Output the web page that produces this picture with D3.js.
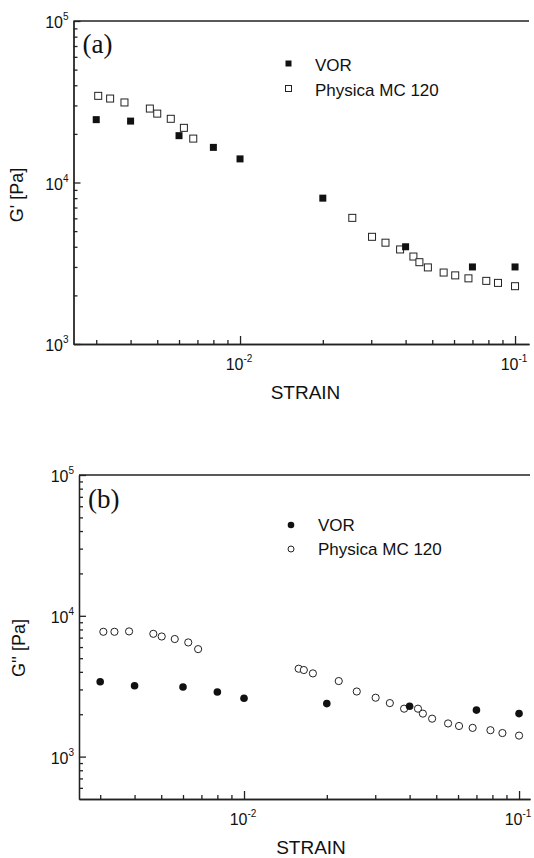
<!DOCTYPE html>
<html>
<head>
<meta charset="utf-8">
<script src="https://cdn.jsdelivr.net/npm/d3@7"></script>
<style>
  html, body { margin: 0; padding: 0; background: #fff; }
  svg text { font-family: "Liberation Sans", Arial, sans-serif; fill: #111; }
</style>
</head>
<body>
<svg id="chart" width="534" height="858"></svg>
<script>
// panel (a) G' , panel (b) G''
const vorStrainA = [0.003, 0.004, 0.006, 0.008, 0.01, 0.02, 0.04, 0.07, 0.1]
const vorGp = [24500, 24000, 19500, 16500, 14000, 8000, 4000, 3000, 3000]

const phyStrainA = [0.00305, 0.00337, 0.0038, 0.0047, 0.005, 0.0056, 0.00625, 0.00676,
  0.0256, 0.0302, 0.0338, 0.0382, 0.0427, 0.0449, 0.0482, 0.055, 0.0606, 0.0677, 0.0786, 0.0867, 0.1]
const phyGp = [34400, 33100, 31300, 28700, 26700, 24800, 21800, 18700,
  6040, 4610, 4240, 3850, 3480, 3210, 2980, 2770, 2660, 2550, 2460, 2390, 2280]

const vorStrainB = [0.003, 0.004, 0.006, 0.008, 0.01, 0.02, 0.04, 0.07, 0.1]
const vorGpp = [3400, 3190, 3120, 2880, 2600, 2380, 2280, 2140, 2020]

const phyStrainB = [0.00308, 0.00338, 0.00382, 0.00468, 0.00502, 0.0056, 0.00627, 0.00681,
  0.0158, 0.0165, 0.0178, 0.0221, 0.0257, 0.0301, 0.0339, 0.0382, 0.0429, 0.0447, 0.0483,
  0.0552, 0.0605, 0.0678, 0.0787, 0.087, 0.1]
const phyGpp = [7700, 7700, 7750, 7450, 7130, 6840, 6470, 5800,
  4210, 4120, 3900, 3440, 2900, 2620, 2400, 2190, 2190, 2020, 1860,
  1720, 1650, 1600, 1540, 1470, 1410]

const legendNames = ['VOR', 'Physica MC 120']
const xTickExps = [-2, -1]

const svg = d3.select('#chart')

function panel(opt) {
  const x = d3.scaleLog().domain(opt.xDomain).range([opt.left, opt.right])
  const y = d3.scaleLog().domain(opt.yDomain).range([opt.bottom, opt.top])
  const g = svg.append('g')

  // minor ticks
  const xMinor = []
  const yMinor = []
  for (let e = -3; e <= -1; e++) for (let k = 2; k <= 9; k++) {
    const v = k * Math.pow(10, e)
    if (v > opt.xDomain[0] && v < opt.xDomain[1]) xMinor.push(v)
  }
  for (let e = 2; e <= 4; e++) for (let k = 2; k <= 9; k++) {
    const v = k * Math.pow(10, e)
    if (v > opt.yDomain[0] && v < opt.yDomain[1]) yMinor.push(v)
  }
  const xMajor = xTickExps.map(e => Math.pow(10, e))
  const yMajor = opt.yExps.map(e => Math.pow(10, e))

  g.append('g').attr('transform', `translate(0,${opt.bottom})`)
    .call(d3.axisBottom(x).tickValues(xMinor).tickSize(-4).tickFormat('').tickSizeOuter(0))
  g.append('g').attr('transform', `translate(0,${opt.bottom})`)
    .call(d3.axisBottom(x).tickValues(xMajor).tickSize(-8).tickFormat('').tickSizeOuter(0))
  g.append('g').attr('transform', `translate(${opt.left},0)`)
    .call(d3.axisLeft(y).tickValues(yMinor).tickSize(-4).tickFormat('').tickSizeOuter(0))
  g.append('g').attr('transform', `translate(${opt.left},0)`)
    .call(d3.axisLeft(y).tickValues(yMajor).tickSize(-7).tickFormat('').tickSizeOuter(0))
  g.selectAll('.domain, .tick line').attr('stroke', '#222').attr('stroke-width', 1.3)

  // top frame line
  g.append('line')
    .attr('x1', opt.left).attr('x2', opt.right)
    .attr('y1', opt.top).attr('y2', opt.top)
    .attr('stroke', '#222').attr('stroke-width', 1.3)

  // tick labels with superscripts
  const xl = g.selectAll('.xl').data(xTickExps).enter().append('text')
    .attr('x', d => x(Math.pow(10, d)) - 1)
    .attr('y', opt.bottom + 26)
    .attr('text-anchor', 'middle')
    .attr('font-size', 16)
  xl.append('tspan').text('10')
  xl.append('tspan').attr('dy', -8).attr('font-size', 10).text(d => d)

  const yl = g.selectAll('.yl').data(opt.yExps).enter().append('text')
    .attr('x', opt.left - 5)
    .attr('y', d => y(Math.pow(10, d)) + 7)
    .attr('text-anchor', 'end')
    .attr('font-size', 16)
  yl.append('tspan').text('10')
  yl.append('tspan').attr('dy', -8).attr('font-size', 10).text(d => d)

  // axis titles
  g.append('text')
    .attr('transform', `translate(${opt.yTitleX},${opt.yTitleY}) rotate(-90)`)
    .attr('text-anchor', 'middle')
    .attr('font-size', 18)
    .text(opt.yTitle)
  g.append('text')
    .attr('x', opt.left + 232).attr('y', opt.bottom + 55)
    .attr('text-anchor', 'middle')
    .attr('font-size', 19)
    .text('STRAIN')

  // panel letter
  g.append('text')
    .attr('x', opt.left + 9).attr('y', opt.top + opt.letterDy)
    .style('font-family', '"Liberation Serif", "Times New Roman", serif')
    .attr('font-size', 27)
    .text(opt.letter)

  return { g, x, y }
}

// ---------- panel (a)
const pa = panel({
  left: 73.5, right: 529, top: 21, bottom: 344,
  xDomain: [0.00248, 0.1124], yDomain: [1e3, 1e5], yExps: [3, 4, 5],
  yTitle: "G' [Pa]", yTitleX: 23, yTitleY: 195, letter: '(a)', letterDy: 32
})
const sq = 7
pa.g.selectAll('.pA').data(phyStrainA).enter().append('rect')
  .attr('x', (d) => pa.x(d) - sq / 2)
  .attr('y', (d, i) => pa.y(phyGp[i]) - sq / 2)
  .attr('width', sq).attr('height', sq)
  .attr('fill', '#fff').attr('stroke', '#222').attr('stroke-width', 1)
pa.g.selectAll('.vA').data(vorStrainA).enter().append('rect')
  .attr('x', (d) => pa.x(d) - sq / 2)
  .attr('y', (d, i) => pa.y(vorGp[i]) - sq / 2)
  .attr('width', sq).attr('height', sq)
  .attr('fill', '#111')

// legend (a)
pa.g.append('rect').attr('x', 285.5).attr('y', 60.5).attr('width', 6).attr('height', 6).attr('fill', '#111')
pa.g.append('rect').attr('x', 285.5).attr('y', 85.5).attr('width', 6).attr('height', 6)
  .attr('fill', '#fff').attr('stroke', '#222').attr('stroke-width', 1)
pa.g.selectAll('.lgA').data(legendNames).enter().append('text')
  .attr('x', 315).attr('y', (d, i) => 71 + i * 25)
  .attr('font-size', 17)
  .text(d => d)

// ---------- panel (b)
const pb = panel({
  left: 79, right: 530, top: 475, bottom: 799,
  xDomain: [0.002512, 0.1096], yDomain: [500, 1e5], yExps: [3, 4, 5],
  yTitle: "G'' [Pa]", yTitleX: 25, yTitleY: 648, letter: '(b)', letterDy: 33
})
pb.g.selectAll('.pB').data(phyStrainB).enter().append('circle')
  .attr('cx', (d) => pb.x(d))
  .attr('cy', (d, i) => pb.y(phyGpp[i]))
  .attr('r', 3.6)
  .attr('fill', '#fff').attr('stroke', '#222').attr('stroke-width', 1)
pb.g.selectAll('.vB').data(vorStrainB).enter().append('circle')
  .attr('cx', (d) => pb.x(d))
  .attr('cy', (d, i) => pb.y(vorGpp[i]))
  .attr('r', 3.8)
  .attr('fill', '#111')

// legend (b)
pb.g.append('circle').attr('cx', 291).attr('cy', 525).attr('r', 3.3).attr('fill', '#111')
pb.g.append('circle').attr('cx', 291).attr('cy', 549).attr('r', 3)
  .attr('fill', '#fff').attr('stroke', '#222').attr('stroke-width', 1)
pb.g.selectAll('.lgB').data(legendNames).enter().append('text')
  .attr('x', 318).attr('y', (d, i) => 531 + i * 24)
  .attr('font-size', 17)
  .text(d => d)
</script>
</body>
</html>
